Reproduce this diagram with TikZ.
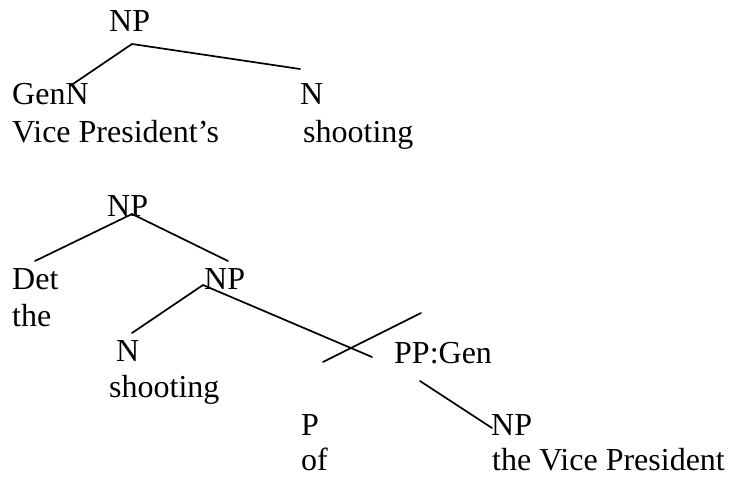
\documentclass[tikz,border=0pt]{standalone}
\usepackage{fontspec}
\setmainfont{Liberation Serif}
\begin{document}
\begin{tikzpicture}[x=1pt,y=-1pt,
  lbl/.style={anchor=base west, inner sep=0pt, font=\fontsize{32}{38}\selectfont},
  branch/.style={line width=1.7pt, line cap=round}]
\useasboundingbox (0,0) rectangle (731,479);
% top tree
\node[lbl] (np1) at (109,31) {NP};
\node[lbl] (genn) at (12,104) {GenN};
\node[lbl] (n1) at (300,104) {N};
\node[lbl] (w1) at (12,142) {Vice President’s};
\node[lbl] (w2) at (303,142) {shooting};
\coordinate (a1) at (132,44);
\coordinate (a2) at (70,86);
\coordinate (a3) at (300,69);
\draw[branch] (a2) -- (a1) -- (a3);
% bottom tree
\node[lbl] (np2) at (107,216) {NP};
\node[lbl] (det) at (12,289) {Det};
\node[lbl] (np3) at (204,289) {NP};
\node[lbl] (the) at (12,326) {the};
\node[lbl] (n2) at (116,361) {N};
\node[lbl] (w3) at (109,397) {shooting};
\node[lbl] (pp) at (394,363) {PP:Gen};
\node[lbl] (p) at (301,435) {P};
\node[lbl] (of) at (301,470) {of};
\node[lbl] (np4) at (491,435) {NP};
\node[lbl] (w4) at (492,470) {the Vice President};
\coordinate (b1) at (132,214);
\coordinate (b2) at (35,261);
\coordinate (b3) at (228,261);
\coordinate (c1) at (203,285);
\coordinate (c2) at (132,333);
\coordinate (c3) at (372,357);
\coordinate (d1) at (421,313);
\coordinate (d2) at (323,362);
\coordinate (e1) at (420,381);
\coordinate (e2) at (492,428);
\draw[branch] (b2) -- (b1) -- (b3);
\draw[branch] (c2) -- (c1) -- (c3);
\draw[branch] (d1) -- (d2);
\draw[branch] (e1) -- (e2);
\end{tikzpicture}
\end{document}
